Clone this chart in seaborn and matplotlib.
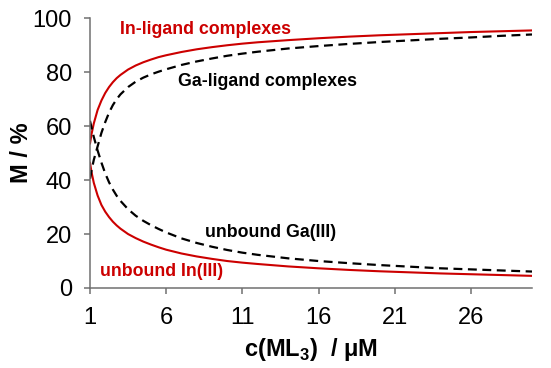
import matplotlib
matplotlib.use('Agg')
import matplotlib.pyplot as plt
import seaborn as sns
import pandas as pd

sns.set_style('ticks')
plt.rcParams['font.family'] = ['Liberation Sans', 'DejaVu Sans']
plt.rcParams['mathtext.fontset'] = 'custom'
plt.rcParams['mathtext.rm'] = 'Liberation Sans'
plt.rcParams['mathtext.bf'] = 'Liberation Sans:bold'

# 농도 (µM)
conc = [1, 1.1, 1.25, 1.5, 1.75, 2, 2.25, 2.5, 2.75, 3, 3.5, 4, 4.5, 5, 5.5, 6,
        7, 8, 9, 10, 11, 12, 14, 16, 18, 20, 22, 24, 26, 28, 30]

# 곡선 값 (그림에서 읽은 %)
in_complex = [53.5, 57, 61, 66, 69.5, 72.3, 74.5, 76.3, 77.8, 79.0, 81.0, 82.5, 83.7, 84.7, 85.6, 86.3,
              87.5, 88.5, 89.3, 90.0, 90.6, 91.1, 91.9, 92.6, 93.2, 93.7, 94.1, 94.5, 94.9, 95.2, 95.5]
in_free = [46.5, 43, 39, 34.3, 30.8, 28.3, 26.3, 24.6, 23.2, 22.0, 20.0, 18.5, 17.2, 16.1, 15.1, 14.2,
           12.8, 11.7, 10.8, 10.0, 9.4, 8.9, 8.0, 7.3, 6.7, 6.2, 5.8, 5.4, 5.1, 4.8, 4.5]
ga_complex = [40.5, 43.5, 47.5, 52.5, 57.5, 61.5, 65, 67.8, 70, 71.8, 74.5, 76.5, 78, 79.2, 80.2, 81.1,
              82.7, 84.0, 85.1, 86.1, 86.9, 87.6, 88.8, 89.7, 90.5, 91.2, 91.8, 92.4, 92.9, 93.5, 94.0]
ga_free = [62, 59.5, 56, 51, 46.5, 42.5, 39.2, 36.5, 34.2, 32.3, 29.2, 26.8, 24.9, 23.3, 21.9, 20.6,
           18.4, 16.7, 15.3, 14.1, 13.1, 12.3, 11.0, 10.0, 9.2, 8.5, 7.9, 7.3, 6.9, 6.5, 6.1]

x_ticks = [1, 6, 11, 16, 21, 26]
y_ticks = [0, 20, 40, 60, 80, 100]

red = '#cc0000'

df = pd.DataFrame({'c': conc, 'In_c': in_complex, 'In_f': in_free,
                   'Ga_c': ga_complex, 'Ga_f': ga_free})

fig = plt.figure(figsize=(5.51, 3.68), dpi=100)
ax = fig.add_axes([0.1633, 0.2174, 0.8022, 0.7329])

sns.lineplot(data=df, x='c', y='In_c', color=red, lw=1.5, ax=ax)
sns.lineplot(data=df, x='c', y='In_f', color=red, lw=1.5, ax=ax)
sns.lineplot(data=df, x='c', y='Ga_c', color='black', lw=1.6, ax=ax).lines[-1].set_dashes((4, 2.5))
sns.lineplot(data=df, x='c', y='Ga_f', color='black', lw=1.6, ax=ax).lines[-1].set_dashes((4, 2.5))

ax.set_xlim(1, 30)
ax.set_ylim(0, 100)
ax.set_xticks(x_ticks)
ax.set_yticks(y_ticks)
ax.tick_params(labelsize=17, length=4, width=1.1, color='#707070', labelcolor='black')
ax.tick_params(axis='x', pad=10)
ax.tick_params(axis='y', pad=9)
for s in ['left', 'bottom']:
    ax.spines[s].set_color('#707070')
    ax.spines[s].set_linewidth(1.1)
sns.despine(ax=ax)

ax.set_xlabel(r'c(ML$_{\mathbf{3}}$)  / μM', fontsize=17, fontweight='bold', color='black')
ax.set_ylabel('M / %', fontsize=17, fontweight='bold', color='black')
ax.xaxis.set_label_coords(0.5, -0.178)
ax.yaxis.set_label_coords(-0.129, 0.5)

ax.text(2.97, 95.7, 'In-ligand complexes', color=red, fontsize=12.8, fontweight='bold', va='center')
ax.text(6.79, 76.4, 'Ga-ligand complexes', color='black', fontsize=12.8, fontweight='bold', va='center')
ax.text(8.57, 20.5, 'unbound Ga(III)', color='black', fontsize=12.8, fontweight='bold', va='center')
ax.text(1.66, 6.0, 'unbound In(III)', color=red, fontsize=12.8, fontweight='bold', va='center')

fig.savefig('out.png', dpi=100)
